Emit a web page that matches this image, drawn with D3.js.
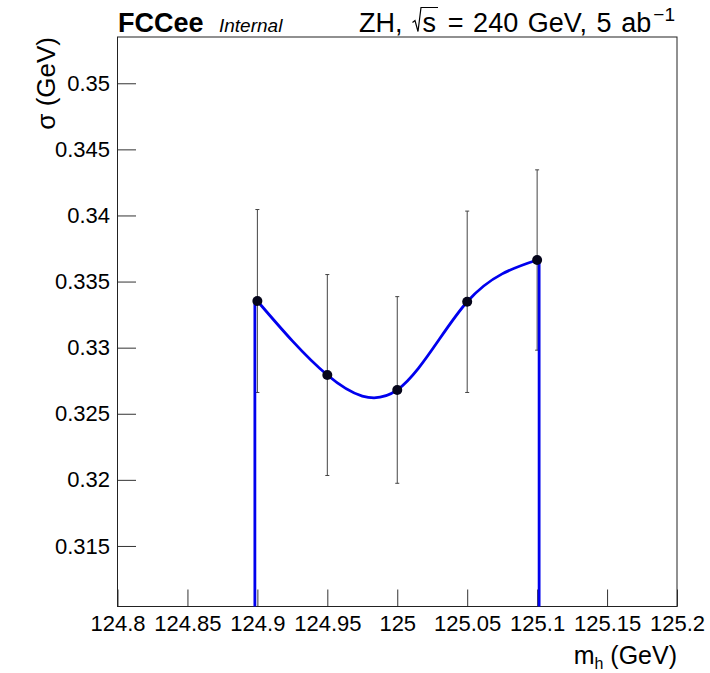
<!DOCTYPE html>
<html>
<head>
<meta charset="utf-8">
<script src="https://cdn.jsdelivr.net/npm/d3@7"></script>
<style>
  html, body { margin: 0; padding: 0; background: #fff; }
  svg { display: block; font-family: "Liberation Sans", Arial, Helvetica, sans-serif; }
</style>
</head>
<body>
<svg id="chart" width="710" height="673"></svg>
<script>
// Higgs mass scan points: cross-section vs m_h
const massPoints = [124.9, 124.95, 125.0, 125.05, 125.1];
const sigmaValues = [0.33353, 0.32793, 0.3268, 0.33347, 0.33663];
const sigmaErrors = [0.00692, 0.0076, 0.00706, 0.00686, 0.00682];

// Axis ranges and tick labels
const xRange = [124.8, 125.2];
const yRange = [0.31042, 0.3535];
const xTickValues = [124.8, 124.85, 124.9, 124.95, 125.0, 125.05, 125.1, 125.15, 125.2];
const xTickLabels = ["124.8", "124.85", "124.9", "124.95", "125", "125.05", "125.1", "125.15", "125.2"];
const yTickValues = [0.315, 0.32, 0.325, 0.33, 0.335, 0.34, 0.345, 0.35];
const yTickLabels = ["0.315", "0.32", "0.325", "0.33", "0.335", "0.34", "0.345", "0.35"];

const frame = { left: 117.5, right: 677, top: 37, bottom: 606.5 };

const svg = d3.select("#chart");

const x = d3.scaleLinear().domain(xRange).range([frame.left, frame.right]);
const y = d3.scaleLinear().domain(yRange).range([frame.bottom, frame.top]);

const tickColor = "#333";
const font = "Liberation Sans, Arial, sans-serif";

// minor ticks every 0.01 on x, every 0.001 on y
const xMinor = d3.range(0, 41).map(i => +(xRange[0] + i * 0.01).toFixed(3))
  .filter(v => !xTickValues.some(t => Math.abs(t - v) < 1e-9));
const yMinor = d3.range(311, 354).map(i => i / 1000)
  .filter(v => v >= yRange[0] && v <= yRange[1] && !yTickValues.some(t => Math.abs(t - v) < 1e-9));

// x axis
const gx = svg.append("g").attr("transform", `translate(0,${frame.bottom})`);
gx.call(d3.axisBottom(x).tickValues(xMinor).tickSize(-8.5).tickFormat(""));
gx.call(d3.axisBottom(x).tickValues(xTickValues).tickSize(-17).tickPadding(9)
  .tickFormat((d, i) => xTickLabels[i]));
gx.selectAll(".domain").remove();
gx.selectAll("line").attr("stroke", tickColor);
gx.selectAll("text").attr("font-size", 22).attr("fill", "#000").attr("font-family", font);

// y axis
const gy = svg.append("g").attr("transform", `translate(${frame.left},0)`);
gy.call(d3.axisLeft(y).tickValues(yMinor).tickSize(-10.5).tickFormat(""));
gy.call(d3.axisLeft(y).tickValues(yTickValues).tickSize(-18.5).tickPadding(7.5)
  .tickFormat((d, i) => yTickLabels[i]));
gy.selectAll(".domain").remove();
gy.selectAll("line").attr("stroke", tickColor);
gy.selectAll("text").attr("font-size", 22).attr("fill", "#000").attr("font-family", font);

// frame
svg.append("rect")
  .attr("x", frame.left).attr("y", frame.top)
  .attr("width", frame.right - frame.left).attr("height", frame.bottom - frame.top)
  .attr("fill", "none").attr("stroke", "#222").attr("stroke-width", 1);

const pts = massPoints.map((m, i) => ({ m, s: sigmaValues[i], e: sigmaErrors[i] }));

// error bars
const eb = svg.append("g").attr("stroke", "#444").attr("stroke-width", 1);
pts.forEach(p => {
  eb.append("line").attr("x1", x(p.m)).attr("x2", x(p.m))
    .attr("y1", y(p.s + p.e)).attr("y2", y(p.s - p.e));
  [p.s + p.e, p.s - p.e].forEach(v => {
    eb.append("line").attr("x1", x(p.m) - 2).attr("x2", x(p.m) + 2)
      .attr("y1", y(v)).attr("y2", y(v));
  });
});

// smooth curve through the points, dropped to the axis at both ends
const blue = "#0000ee";
const curve = d3.line().x(d => x(d.m)).y(d => y(d.s)).curve(d3.curveNatural);
const gc = svg.append("g").attr("fill", "none").attr("stroke", blue).attr("stroke-width", 2.8);
gc.append("path").attr("d", curve(pts));
const first = pts[0], last = pts[pts.length - 1];
gc.append("line").attr("x1", x(first.m) - 2.5).attr("x2", x(first.m) - 2.5)
  .attr("y1", y(first.s)).attr("y2", frame.bottom);
gc.append("line").attr("x1", x(last.m) + 2).attr("x2", x(last.m) + 2)
  .attr("y1", y(last.s)).attr("y2", frame.bottom);

// markers
svg.append("g").selectAll("circle").data(pts).join("circle")
  .attr("cx", d => x(d.m)).attr("cy", d => y(d.s)).attr("r", 5)
  .attr("fill", "#05051a");

// axis titles
const xt = svg.append("text").attr("x", frame.right).attr("y", 664)
  .attr("text-anchor", "end").attr("font-size", 25).attr("fill", "#000");
xt.append("tspan").text("m");
xt.append("tspan").attr("font-size", 16).attr("dy", 5).text("h");
xt.append("tspan").attr("dy", -5).text(" (GeV)");

svg.append("text")
  .attr("transform", `translate(55,${frame.top}) rotate(-90)`)
  .attr("text-anchor", "end").attr("font-size", 26).attr("fill", "#000")
  .text("σ (GeV)");

// header labels
svg.append("text").attr("x", 118).attr("y", 31.5)
  .attr("font-size", 27).attr("font-weight", "bold").attr("fill", "#000")
  .text("FCCee");
svg.append("text").attr("x", 219).attr("y", 31.5)
  .attr("font-size", 19).attr("font-style", "italic").attr("fill", "#000")
  .text("Internal");

// process / energy / luminosity label, laid out piece by piece
const hdrY = 31.5, hdrSize = 27, hdrStart = 359, hdrEnd = 675;
const addWord = (str, xPos, size = hdrSize, yPos = hdrY) => {
  const t = svg.append("text").attr("x", xPos).attr("y", yPos)
    .attr("font-size", size).attr("fill", "#000").text(str);
  return xPos + t.node().getComputedTextLength();
};
const zhEnd = addWord("ZH,", hdrStart);
const radX = zhEnd + 10;
const sEnd = addWord("s", radX + 10);
svg.append("path")
  .attr("d", `M${radX},${hdrY - 9} L${radX + 2.5},${hdrY - 11} L${radX + 5.5},${hdrY} L${radX + 8.5},${hdrY - 24} L${sEnd + 2},${hdrY - 24}`)
  .attr("fill", "none").attr("stroke", "#000").attr("stroke-width", 1.2);

// measure the remaining words, then spread them evenly up to the right edge
const words = ["=", "240", "GeV,", "5", "ab"];
const supText = "−1", supSize = 19;
const probe = svg.append("text").attr("font-size", hdrSize).attr("visibility", "hidden");
const widths = words.map(w => { probe.text(w); return probe.node().getComputedTextLength(); });
probe.attr("font-size", supSize).text(supText);
const supW = probe.node().getComputedTextLength();
probe.remove();
const gap = (hdrEnd - (sEnd + 2) - d3.sum(widths) - supW - 2) / words.length;
let cx = sEnd + 2;
words.forEach(w => { cx = addWord(w, cx + gap); });
addWord(supText, cx + 2, supSize, hdrY - 11);
</script>
</body>
</html>
